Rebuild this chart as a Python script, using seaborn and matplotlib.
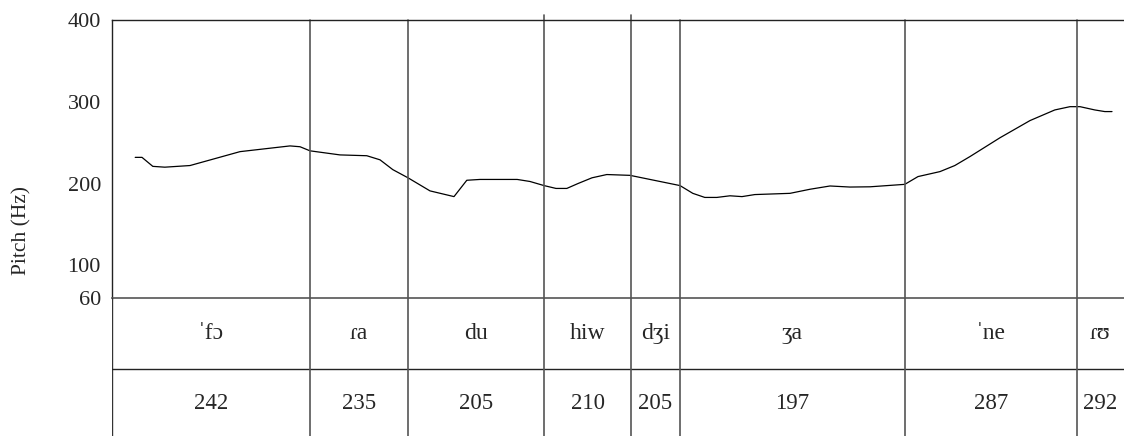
import matplotlib
matplotlib.use("Agg")
import matplotlib.pyplot as plt
import seaborn as sns
import numpy as np
import pandas as pd

# Pitch contour (time in s, F0 in Hz)
time_s = [0.058, 0.075, 0.102, 0.132, 0.195, 0.32, 0.445, 0.47, 0.495, 0.57,
          0.637, 0.67, 0.702, 0.74, 0.795, 0.855, 0.887, 0.92, 0.952, 1.013,
          1.045, 1.08, 1.11, 1.137, 1.165, 1.2, 1.237, 1.295, 1.37, 1.42,
          1.452, 1.482, 1.512, 1.545, 1.575, 1.607, 1.695, 1.745, 1.795, 1.845,
          1.895, 1.982, 2.015, 2.07, 2.107, 2.145, 2.22, 2.295, 2.357, 2.395,
          2.42, 2.457, 2.482, 2.5]
pitch_hz = [232, 232, 221, 220, 222, 239, 246, 245, 240, 235,
            234, 229, 217, 207, 191, 184, 204, 205, 205, 205,
            202.5, 197.5, 194, 194, 200, 207, 211, 210, 202.5, 197.5,
            188, 183, 183, 185, 184, 186.5, 188, 193, 197, 195.7,
            196, 199, 208.5, 214.6, 222, 233, 256, 277, 290, 294,
            294, 290, 288, 288]

# Syllable boundaries (s), syllables and mean pitch per syllable
boundaries = [0.495, 0.74, 1.08, 1.2975, 1.42, 1.9825, 2.4125]
syllables = ["ˈfɔ", "ɾa", "du", "hiw", "dʒi", "ʒa", "ˈne", "ɾʊ"]
mean_pitch = [242, 235, 205, 210, 205, 197, 287, 292]
y_ticks = [60, 100, 200, 300, 400]

t_end = 2.53

sns.set_style("white")
plt.rcParams["font.family"] = ["Liberation Serif", "DejaVu Serif"]

W, H = 1124, 436
fig = plt.figure(figsize=(W / 100, H / 100), dpi=100)

left = 112 / W
ax = fig.add_axes([left, (H - 298) / H, 1 - left, (298 - 20) / H])
tab = fig.add_axes([left, 0, 1 - left, (H - 298) / H])

df = pd.DataFrame({"time": time_s, "pitch": pitch_hz})
sns.lineplot(data=df, x="time", y="pitch", ax=ax, color="black", linewidth=0.9)

ax.set_xlim(0, t_end)
ax.set_ylim(60, 400)
ax.set_yticks(y_ticks)
ax.set_yticklabels([str(v) for v in y_ticks], fontsize=16)
ax.set_xticks([])
ax.set_xlabel("")
ax.set_ylabel("Pitch (Hz)", fontsize=15.5, va="center")
ax.yaxis.set_label_coords((22 - 112) / 1012, (298 - 230) / 278)
ax.tick_params(axis="y", direction="out", length=7, width=0.8, color="#333333", pad=1)
ax.spines["right"].set_visible(False)
for side in ["top", "left"]:
    ax.spines[side].set_color("#222222")
    ax.spines[side].set_linewidth(1.0)
ax.spines["bottom"].set_color("#555555")
ax.spines["bottom"].set_linewidth(1.2)

# Syllable boundaries through the pitch panel
for i, b in enumerate(boundaries):
    top = 406 if i in (2, 3) else 400
    ax.plot([b, b], [60, top], color="#555555", linewidth=1.2, clip_on=False)

# Table of syllables and mean pitch
tab.set_xlim(0, t_end)
tab.set_ylim(0, H - 298)
tab.axis("off")
tab.plot([0, 0], [0, H - 298], color="#333333", linewidth=1.0)
tab.plot([0, t_end], [H - 369, H - 369], color="#222222", linewidth=1.0)
for b in boundaries:
    tab.plot([b, b], [0, H - 298], color="#555555", linewidth=1.2)

edges = [0] + boundaries + [t_end]
for i, (syl, val) in enumerate(zip(syllables, mean_pitch)):
    cx = (edges[i] + edges[i + 1]) / 2
    tab.text(cx, H - 333, syl, ha="center", va="center", fontsize=17)
    tab.text(cx, H - 403, str(val), ha="center", va="center", fontsize=16.5)

fig.savefig("out.png", dpi=100)
